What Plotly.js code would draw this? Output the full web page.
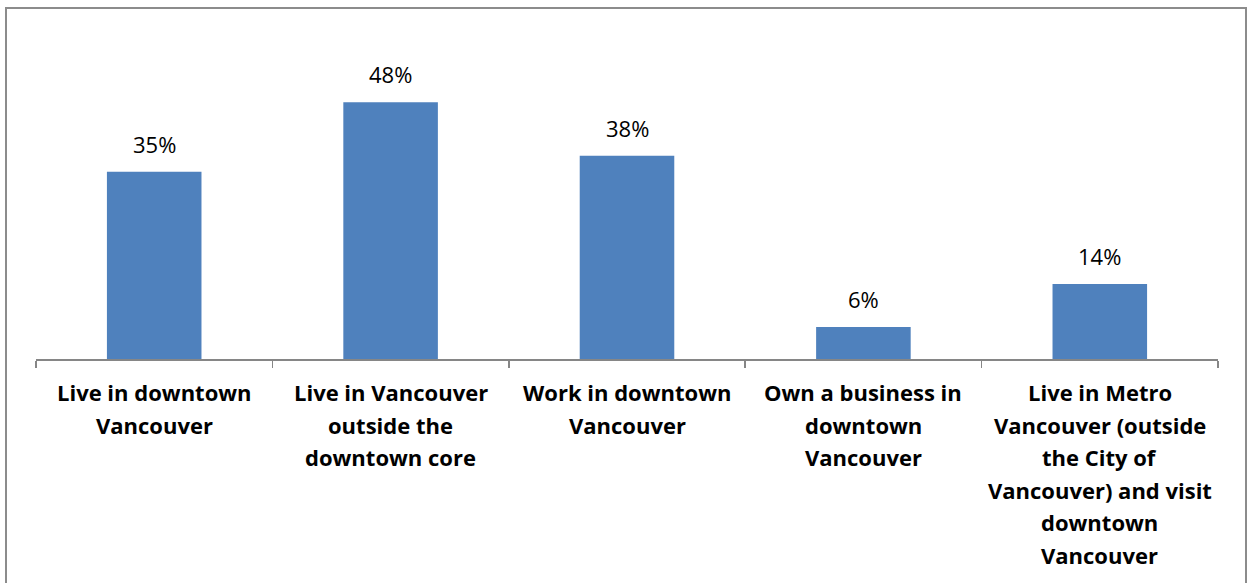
<!DOCTYPE html>
<html>
<head>
<meta charset="utf-8">
<script src="https://cdn.plot.ly/plotly-3.0.1.min.js"></script>
<style>
  html, body { margin: 0; padding: 0; background: #fff; }
  #chart { position: absolute; left: 0; top: 0; width: 1248px; height: 583px; }
  #frame { position: absolute; left: 5px; top: 7px; width: 1238px; height: 590px;
           border: 2px solid #8c8c8c; pointer-events: none; }
</style>
</head>
<body>
<div id="chart"></div>
<div id="frame"></div>
<script>
const categories = [
  "Live in downtown<br>Vancouver",
  "Live in Vancouver<br>outside the<br>downtown core",
  "Work in downtown<br>Vancouver",
  "Own a business in<br>downtown<br>Vancouver",
  "Live in Metro<br>Vancouver (outside<br>the City of<br>Vancouver) and visit<br>downtown<br>Vancouver"
];
const values = [35, 48, 38, 6, 14];
const valueLabels = ["35%", "48%", "38%", "6%", "14%"];

const FONT = "'Open Sans', Lato, sans-serif";
const annotations = [];
values.forEach((v, i) => {
  annotations.push({
    x: categories[i], y: v, xref: "x", yref: "y",
    text: valueLabels[i], showarrow: false, yanchor: "bottom", yshift: 11,
    font: { family: FONT, size: 22, color: "#000" }
  });
});
categories.forEach((c, i) => {
  c.split("<br>").forEach((line, j) => {
    annotations.push({
      x: c, y: 0, xref: "x", yref: "y",
      text: "<b>" + line + "</b>", showarrow: false, yanchor: "middle",
      yshift: -33 - j * 32.6,
      font: { family: FONT, size: 22, color: "#000" }
    });
  });
});

const trace = {
  type: "bar", x: categories, y: values, width: 0.4,
  marker: { color: "#4F81BD" }, hoverinfo: "none"
};

const layout = {
  width: 1248, height: 583,
  margin: { l: 36, r: 30, t: 38, b: 224 },
  paper_bgcolor: "#fff", plot_bgcolor: "#fff",
  showlegend: false,
  xaxis: {
    type: "category", showticklabels: false,
    showline: true, linecolor: "#868686", linewidth: 1.5,
    ticks: "outside", tickson: "boundaries", ticklen: 7, tickcolor: "#868686", tickwidth: 1.5,
    showgrid: false, zeroline: false, fixedrange: true
  },
  yaxis: {
    range: [0, 60], visible: false, showgrid: false, zeroline: false, fixedrange: true
  },
  annotations: annotations
};

Plotly.newPlot("chart", [trace], layout, { displayModeBar: false, staticPlot: true });
</script>
</body>
</html>
